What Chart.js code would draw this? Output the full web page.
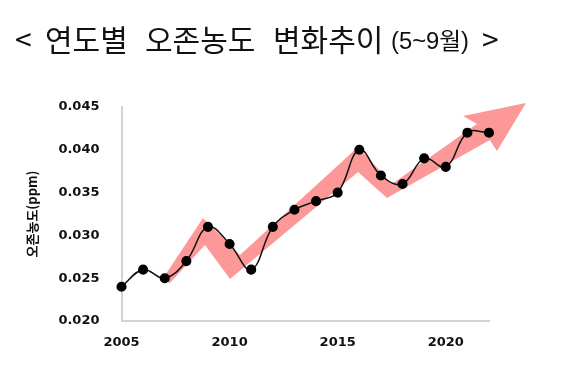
<!DOCTYPE html>
<html><head><meta charset="utf-8">
<script src="https://cdn.jsdelivr.net/npm/chart.js@4/dist/chart.umd.min.js"></script>
<style>html,body{margin:0;padding:0;background:#fff}#wrap{width:567px;height:377px;position:relative}</style>
</head><body><div id="wrap"><canvas id="c" width="567" height="377"></canvas></div>
<script>
const years = [2005,2006,2007,2008,2009,2010,2011,2012,2013,2014,2015,2016,2017,2018,2019,2020,2021,2022];
const ozone = [0.024,0.026,0.025,0.027,0.031,0.029,0.026,0.031,0.033,0.034,0.035,0.040,0.037,0.036,0.039,0.038,0.042,0.042];
const xTicks = [2005,2010,2015,2020];
const yTicks = [0.020,0.025,0.030,0.035,0.040,0.045];
// trend arrow outline (year, ppm)
const arrowX = [2006.87,2008.77,2010.48,2015.94,2017.51,2021.44,2020.80,2023.71,2022.37,2022.04,2017.28,2015.94,2010.02,2008.86,2007.24];
const arrowY = [0.02479,0.03203,0.02771,0.04033,0.03600,0.04301,0.04395,0.04547,0.03986,0.04115,0.03437,0.03741,0.02491,0.02888,0.02444];
const titleParts = ['<','연도별','오존농도','변화추이','(5~9월)','>'];
const yAxisTitle = '오존농도(ppm)';

const arrowPlugin = {
  id:'arrow',
  beforeDatasetsDraw(chart){
    const {ctx, scales:{x,y}} = chart;
    ctx.save();
    ctx.beginPath();
    arrowX.forEach((v,i)=>{
      const px = x.getPixelForValue(v), py = y.getPixelForValue(arrowY[i]);
      if(i===0) ctx.moveTo(px,py); else ctx.lineTo(px,py);
    });
    ctx.closePath();
    ctx.fillStyle = 'rgb(252,152,152)';
    ctx.fill();
    ctx.restore();
  }
};
const titlePlugin = {
  id:'mixedTitle',
  afterDraw(chart){
    const ctx = chart.ctx;
    ctx.save();
    ctx.fillStyle = '#111';
    ctx.textBaseline = 'middle';
    ctx.textAlign = 'left';
    const xs = [15,45,145,273,391,482];
    titleParts.forEach((t,i)=>{
      if(i===4){
        ctx.save();
        ctx.font = '22px "Liberation Sans", "Noto Sans CJK KR"';
        const w = ctx.measureText(t).width;
        const s = 78 / w;
        ctx.translate(xs[i], 43);
        ctx.scale(s, 1.05);
        ctx.fillText(t, 0, 0);
        ctx.restore();
      } else {
        ctx.font = '30px "Noto Sans CJK KR"';
        ctx.fillText(t, xs[i], 40);
      }
    });
    ctx.restore();
  }
};

new Chart(document.getElementById('c'), {
  type:'line',
  data:{
    datasets:[{
      data: years.map((yr,i)=>({x:yr, y:ozone[i]})),
      borderColor:'#111',
      borderWidth:1.5,
      backgroundColor:'#000',
      pointBackgroundColor:'#000',
      pointBorderColor:'#000',
      pointRadius:4.3,
      tension:0.4,
      fill:false,
      clip:false
    }]
  },
  options:{
    responsive:false,
    animation:false,
    devicePixelRatio:1,
    layout:{padding:{left:18,right:78,top:107,bottom:0}},
    plugins:{legend:{display:false},title:{display:false},tooltip:{enabled:false}},
    scales:{
      x:{
        type:'linear', min:2005, max:2022,
        grid:{display:false},
        border:{display:true,color:'#d3d3d3',width:2},
        afterBuildTicks(s){ s.ticks = xTicks.map(v=>({value:v})); },
        afterFit(s){ s.height = 56; },
        ticks:{padding:6,color:'#111',font:{family:'"DejaVu Sans"',size:13,weight:'bold'},callback:v=>String(v)}
      },
      y:{
        min:0.020, max:0.045,
        grid:{display:false},
        border:{display:true,color:'#d3d3d3',width:2},
        afterBuildTicks(s){ s.ticks = yTicks.map(v=>({value:v})); },
        afterFit(s){ s.width = 103.5; },
        ticks:{padding:14,color:'#111',font:{family:'"DejaVu Sans"',size:13,weight:'bold'},callback:v=>Number(v).toFixed(3)},
        title:{display:true,text:yAxisTitle,color:'#111',padding:{top:6,bottom:0},font:{family:'"Noto Sans CJK KR"',size:13,weight:'bold'}}
      }
    }
  },
  plugins:[arrowPlugin,titlePlugin]
});
</script></body></html>
